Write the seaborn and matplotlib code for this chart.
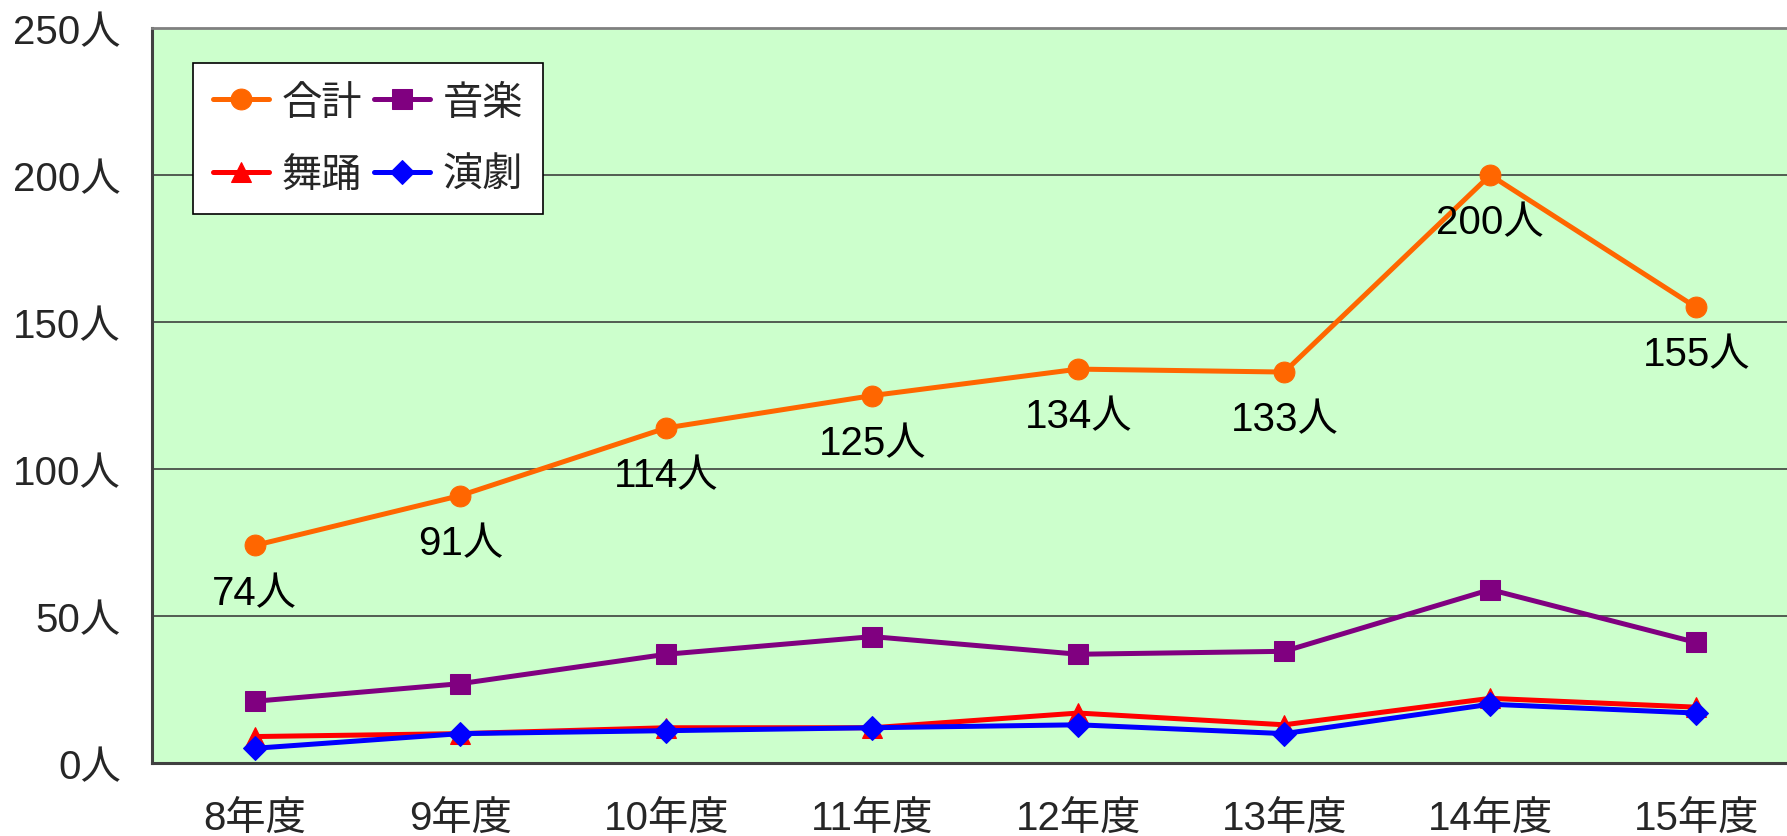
import matplotlib
matplotlib.use("Agg")
import matplotlib.pyplot as plt
import seaborn as sns
import numpy as np

years = ["8年度", "9年度", "10年度", "11年度", "12年度", "13年度", "14年度", "15年度"]
total = [74, 91, 114, 125, 134, 133, 200, 155]
music = [21, 27, 37, 43, 37, 38, 59, 41]
dance = [9, 10, 12, 12, 17, 13, 22, 19]
drama = [5, 10, 11, 12, 13, 10, 20, 17]
y_ticks = [0, 50, 100, 150, 200, 250]

sns.set_theme(style="white")
plt.rcParams["font.family"] = ["Liberation Sans", "Noto Sans CJK JP"]

FS = 29

fig = plt.figure(figsize=(17.87, 8.37), dpi=100)
ax = fig.add_axes([0.0848, 0.0872, 0.922, 0.878])
ax.set_facecolor("#CCFFCC")

x = np.arange(len(years))
series = [
    ("合計", total, "#FF6600", "o", 15),
    ("舞踊", dance, "#FF0000", "^", 15),
    ("音楽", music, "#800080", "s", 14),
    ("演劇", drama, "#0000FF", "D", 12),
]
for name, vals, color, marker, ms in series:
    sns.lineplot(x=x, y=vals, ax=ax, color=color, marker=marker, markersize=ms,
                 markeredgecolor=color, linewidth=3.6, label=name, zorder=3)

# value labels under the total line
for xi, v in zip(x, total):
    ax.annotate(f"{v}人", (xi, v), xytext=(0, -34), textcoords="offset points",
                ha="center", va="center", fontsize=FS, color="black", zorder=4)

ax.set_xlim(-0.5, len(years) - 0.5)
ax.set_ylim(0, 250)
ax.set_yticks(y_ticks)
ax.set_yticklabels([f"{t}人" for t in y_ticks], fontsize=FS)
ax.set_xticks(x)
ax.set_xticklabels(years, fontsize=FS)
ax.set_xticks(np.arange(0.5, len(years) - 1, 1.0), minor=True)
ax.tick_params(axis="x", which="major", length=0, pad=26)
ax.tick_params(axis="x", which="minor", direction="in", length=9, width=1.2, color="#222222")
ax.tick_params(axis="y", which="major", direction="in", length=9, width=1.2,
               color="#222222", pad=22)

ax.yaxis.grid(True, color="#303030", linewidth=1.1)
ax.xaxis.grid(False)
ax.set_axisbelow(True)

for side in ["left", "bottom"]:
    ax.spines[side].set_color("#404040")
    ax.spines[side].set_linewidth(2.2)
ax.spines["top"].set_color("#808080")
ax.spines["top"].set_linewidth(2)
ax.spines["right"].set_visible(False)

handles, labels = ax.get_legend_handles_labels()
leg = ax.legend(handles, labels, ncol=2, loc="upper left",
                bbox_to_anchor=(0.025, 0.952), fontsize=FS, frameon=True,
                fancybox=False, shadow=False, handlelength=1.4,
                handletextpad=0.3, columnspacing=0.3, labelspacing=0.85,
                borderpad=0.5, borderaxespad=0)
leg.get_frame().set_edgecolor("black")
leg.get_frame().set_linewidth(1.2)
leg.get_frame().set_facecolor("white")
leg.get_frame().set_alpha(1)

fig.savefig("out.png", dpi=100)
